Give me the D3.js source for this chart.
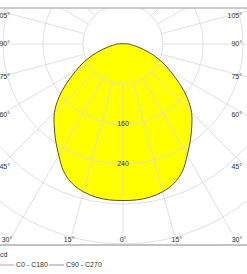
<!DOCTYPE html>
<html>
<head>
<meta charset="utf-8">
<script src="https://cdn.jsdelivr.net/npm/d3@7"></script>
<style>
  body { margin: 0; background: #fff; }
  text { font-family: "Liberation Sans", Arial, sans-serif; font-size: 7px; fill: #333; }
</style>
</head>
<body>
<svg id="chart"></svg>
<script>
// Gamma angles (deg from nadir) and luminous intensity (cd), symmetric curve
const gammas = [0, 5, 10, 15, 20, 25, 30, 35, 40, 45, 50, 55, 60, 65, 70, 75, 80, 85, 90];
const intensity = [313, 313, 311, 306, 297, 281, 257, 235, 214, 194, 168, 138, 110, 87, 64, 43, 27, 17, 12];
const rings = [80, 160, 240, 320, 400];
const ringLabels = [160, 240];
const spokes = d3.range(0, 181, 15);
const sideLabels = [105, 90, 75, 60, 45];
const bottomLabels = [-30, -15, 0, 15, 30];
const legendNames = ["C0 - C180", "C90 - C270"];
const legendColors = ["#e8a4aa", "#a4a4cc"];

const width = 247, height = 274;
const cx = 123, cy = 44;
const frameTop = 8, frameBottom = 245;

const svg = d3.select("#chart").attr("width", width).attr("height", height);

svg.append("clipPath").attr("id", "frame")
  .append("rect").attr("x", 0).attr("y", frameTop).attr("width", width).attr("height", frameBottom - frameTop);

const r = d3.scaleLinear().domain([0, 400]).range([0, 200]);
const rad = d => d * Math.PI / 180;

const plot = svg.append("g").attr("clip-path", "url(#frame)")
  .append("g").attr("transform", `translate(${cx},${cy})`);

// build the full curve from -90 to 90
const pts = [];
for (let i = gammas.length - 1; i > 0; i--) pts.push([-gammas[i], intensity[i]]);
for (let i = 0; i < gammas.length; i++) pts.push([gammas[i], intensity[i]]);

const curve = d3.lineRadial()
  .angle(d => Math.PI - rad(d[0]))
  .radius(d => r(d[1]))
  .curve(d3.curveCatmullRomClosed);

plot.append("path").attr("d", curve(pts))
  .attr("fill", "#ffff00");

// grid
plot.selectAll(".ring").data(rings).enter().append("circle")
  .attr("r", d => r(d)).attr("fill", "none")
  .attr("stroke", "#d8d8d8").attr("stroke-width", 0.8);

const spokeAngles = spokes.flatMap(a => a === 0 || a === 180 ? [a] : [a, -a]);
plot.selectAll(".spoke").data(spokeAngles).enter().append("line")
  .attr("x1", d => r(80) * Math.sin(rad(d)))
  .attr("y1", d => r(80) * Math.cos(rad(d)))
  .attr("x2", d => 400 * Math.sin(rad(d)))
  .attr("y2", d => 400 * Math.cos(rad(d)))
  .attr("stroke", "#d8d8d8").attr("stroke-width", 0.8);

plot.append("path").attr("d", curve(pts))
  .attr("fill", "none").attr("stroke", "#5c5040").attr("stroke-width", 1);

plot.selectAll(".rl").data(ringLabels).enter().append("text")
  .attr("x", 0).attr("y", d => r(d)).attr("dy", "0.35em")
  .attr("text-anchor", "middle").text(d => d);

// frame lines
svg.append("line").attr("x1", 0).attr("x2", width).attr("y1", frameTop).attr("y2", frameTop)
  .attr("stroke", "#999").attr("stroke-width", 1);
svg.append("line").attr("x1", 0).attr("x2", width).attr("y1", frameBottom).attr("y2", frameBottom)
  .attr("stroke", "#888").attr("stroke-width", 1.2);

// side angle labels where spokes meet the frame
sideLabels.forEach(a => {
  const t = cx / Math.sin(rad(a));
  const y = Math.max(cy + t * Math.cos(rad(a)), 16);
  svg.append("text").attr("x", 10).attr("y", y).attr("dy", "0.35em")
    .attr("text-anchor", "end").text(a + "°");
  svg.append("text").attr("x", 242).attr("y", y).attr("dy", "0.35em")
    .attr("text-anchor", "end").text(a + "°");
});

// bottom angle labels
bottomLabels.forEach(a => {
  const x = cx + (frameBottom - cy) * Math.tan(rad(a));
  svg.append("text").attr("x", Math.min(Math.max(x, 5), 237)).attr("y", frameBottom - 3)
    .attr("text-anchor", "middle").text(Math.abs(a) + "°");
});

// legend
svg.append("text").attr("x", 0).attr("y", 257).text("cd");
const lg = svg.selectAll(".lg").data(legendNames).enter().append("g")
  .attr("transform", (d, i) => `translate(${i * 50},265)`);
lg.append("line").attr("x1", -1).attr("x2", 14).attr("y1", 0).attr("y2", 0)
  .attr("stroke", (d, i) => legendColors[i]).attr("stroke-width", 1.2);
lg.append("text").attr("x", 16).attr("dy", "0.35em").text(d => d);
</script>
</body>
</html>
